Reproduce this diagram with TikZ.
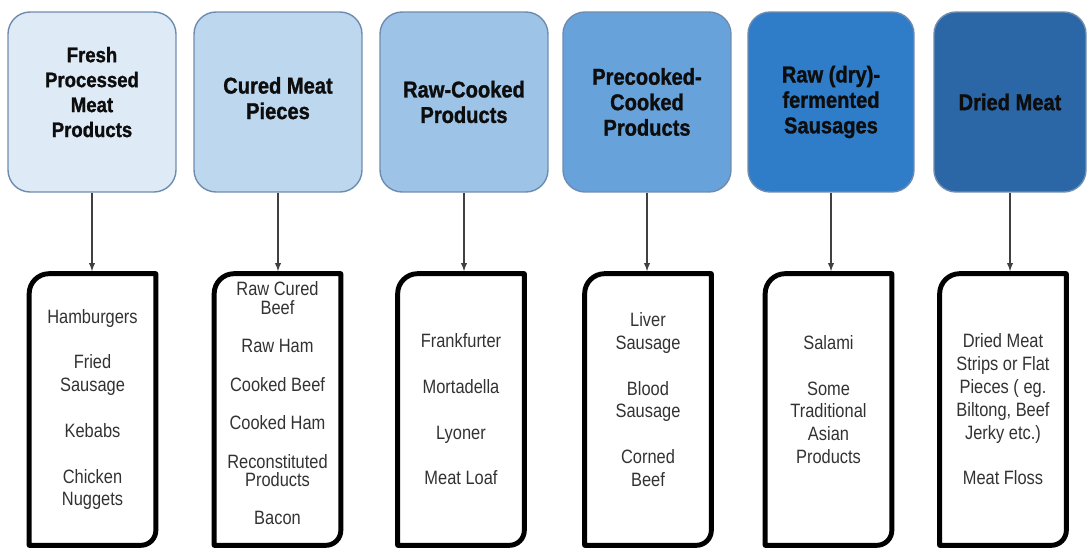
\documentclass[tikz,border=0pt]{standalone}
\usepackage{fontspec}
\usepackage{xcolor}
\setmainfont{Liberation Sans}
\newfontfamily\headfont[FakeStretch=0.88, BoldFeatures={FakeBold=1.2}]{Liberation Sans}
\newfontfamily\listfont[FakeStretch=0.85]{Liberation Sans}
\definecolor{blueA}{RGB}{222,234,246}
\definecolor{blueB}{RGB}{189,215,238}
\definecolor{blueC}{RGB}{157,195,230}
\definecolor{blueD}{RGB}{104,162,218}
\definecolor{blueE}{RGB}{47,124,200}
\definecolor{blueF}{RGB}{43,103,166}
\definecolor{rimblue}{RGB}{110,140,176}
\definecolor{listgray}{RGB}{50,50,50}

\begin{document}
\begin{tikzpicture}[x=0.02cm,y=-0.02cm]
      \tikzstyle{topbox}=[draw=rimblue, line width=0.8pt, rounded corners=0.44cm,
        minimum width=3.36cm, minimum height=3.6cm, inner sep=2pt, align=center,
        text=black!95, font=\headfont\bfseries\fontsize{13}{14.5}\selectfont];
      \tikzstyle{listbox}=[minimum width=2.52cm, minimum height=5.42cm,
        inner sep=0pt, align=center, text=listgray,
        font=\listfont\fontsize{11}{13}\selectfont];
      \tikzstyle{rim}=[line width=2.8pt, line join=round];
      \tikzstyle{link}=[-latex, line width=0.6pt, draw=black!75, shorten >=1.4pt];
      \useasboundingbox (0,0) rectangle (1089,548);
      % categories
      \draw (92, 102) node[style=topbox, fill=blueA,
        font=\headfont\bfseries\fontsize{12}{14.2}\selectfont] (t1)
        {Fresh\\Processed\\Meat\\Products\\[-2.8pt]\mbox{}};
      \draw (278, 102) node[style=topbox, fill=blueB] (t2)
        {Cured Meat\\Pieces\\[-10pt]\mbox{}};
      \draw (464, 102) node[style=topbox, fill=blueC] (t3) {Raw-Cooked\\Products};
      \draw (647, 102) node[style=topbox, fill=blueD] (t4)
        {Precooked-\\Cooked\\Products};
      \draw (831, 102) node[style=topbox, fill=blueE, minimum width=3.32cm] (t5)
        {Raw (dry)-\\fermented\\Sausages};
      \draw (1010, 102) node[style=topbox, fill=blueF, minimum width=3.04cm] (t6)
        {Dried Meat};
      % examples
      \draw (92.5, 409.5) node[style=listbox] (b1)
        {Hamburgers\\[13pt]Fried\\Sausage\\[13pt]Kebabs\\[13pt]Chicken\\Nuggets};
      \draw (277.5, 409.5) node[style=listbox,
        font=\listfont\fontsize{11}{10.4}\selectfont] (b2)
        {Raw Cured\\Beef\\[11.5pt]Raw Ham\\[11.5pt]Cooked Beef\\[11.5pt]Cooked Ham\\[11.5pt]Reconstituted\\Products\\[11.5pt]Bacon\\[-3.5pt]\mbox{}};
      \draw (461, 409.5) node[style=listbox] (b3)
        {Frankfurter\\[13pt]Mortadella\\[13pt]Lyoner\\[13pt]Meat Loaf};
      \draw (648, 409.5) node[style=listbox] (b4)
        {Liver\\Sausage\\[13pt]Blood\\Sausage\\[13pt]Corned\\Beef\\[-1.6pt]\mbox{}};
      \draw (828.5, 409.5) node[style=listbox] (b5)
        {Salami\\[13pt]Some\\Traditional\\Asian\\Products\\[-1.6pt]\mbox{}};
      \draw (1003, 409.5) node[style=listbox] (b6)
        {Dried Meat\\Strips or Flat\\Pieces ( eg.\\Biltong, Beef\\Jerky etc.)\\[13pt]Meat Floss};
      \foreach \b in {b1,b2,b3,b4,b5,b6}
        \draw[style=rim] (\b.south west) -- ([yshift=-0.4cm]\b.north west)
          arc[start angle=180, end angle=90, radius=0.4cm] -- (\b.north east)
          -- ([yshift=0.3cm]\b.south east)
          arc[start angle=0, end angle=-90, radius=0.3cm] -- cycle;
      % links
      \draw[style=link] (t1.south) -- (t1.south |- b1.north);
      \draw[style=link] (t2.south) -- (t2.south |- b2.north);
      \draw[style=link] (t3.south) -- (t3.south |- b3.north);
      \draw[style=link] (t4.south) -- (t4.south |- b4.north);
      \draw[style=link] (t5.south) -- (t5.south |- b5.north);
      \draw[style=link] (t6.south) -- (t6.south |- b6.north);
\end{tikzpicture}
\end{document}
